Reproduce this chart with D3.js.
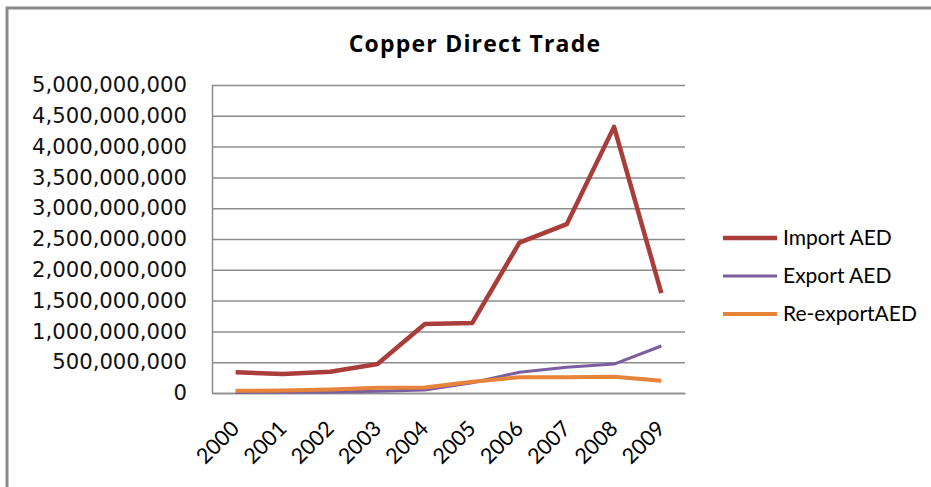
<!DOCTYPE html>
<html>
<head>
<meta charset="utf-8">
<script src="https://cdn.jsdelivr.net/npm/d3@7"></script>
<style>
  body { margin: 0; background: #fff; }
  .gridlines line { stroke: #8c8c8c; stroke-width: 1.5; }
  .gridlines .domain { display: none; }
</style>
</head>
<body>
<svg id="chart" width="931" height="487"></svg>
<script>
const years = ["2000","2001","2002","2003","2004","2005","2006","2007","2008","2009"];
const importAED = [336e6, 310e6, 346e6, 471e6, 1120e6, 1136e6, 2440e6, 2740e6, 4320e6, 1620e6];
const exportAED = [10e6, 12e6, 18e6, 30e6, 50e6, 167e6, 336e6, 417e6, 470e6, 763e6];
const reexportAED = [35e6, 40e6, 55e6, 86e6, 90e6, 184e6, 255e6, 255e6, 265e6, 200e6];
const yTicks = [0, 5e8, 1e9, 1.5e9, 2e9, 2.5e9, 3e9, 3.5e9, 4e9, 4.5e9, 5e9];

const series = [
  {name: "Import AED", values: importAED, color: "#a93d39", width: 4.5},
  {name: "Export AED", values: exportAED, color: "#7b5e9f", width: 3},
  {name: "Re-exportAED", values: reexportAED, color: "#e5843a", width: 4}
];

const svg = d3.select("#chart");
var margins = {top: 85, left: 212, right: 246, bottom: 94};
var chartWidth = svg.attr("width") - margins.left - margins.right;
var chartHeight = svg.attr("height") - margins.top - margins.bottom;

// outer frame
svg.append("path")
   .attr("d", "M7,487 V8 H931")
   .attr("fill", "none")
   .attr("stroke", "#8a8a8a")
   .attr("stroke-width", 3);

// title
svg.append("text")
   .attr("x", 475).attr("y", 52)
   .attr("text-anchor", "middle")
   .attr("font-family", "'Open Sans', Lato, sans-serif")
   .attr("font-weight", "bold")
   .attr("font-size", 23)
   .attr("letter-spacing", 1.2)
   .text("Copper Direct Trade");

// scales
var scaleX = d3.scaleBand().domain(years).range([0, chartWidth]);
var scaleY = d3.scaleLinear().domain([0, 5e9]).range([chartHeight, 0]);

let chartArea = svg.append("g")
                   .attr("transform", `translate(${margins.left},${margins.top})`);

// horizontal gridlines
chartArea.append("g")
   .attr("class", "gridlines")
   .call(d3.axisLeft(scaleY).tickValues(yTicks).tickSize(-chartWidth).tickFormat(""));

// y-axis labels
let leftAxis = chartArea.append("g")
   .call(d3.axisLeft(scaleY).tickValues(yTicks).tickSize(0).tickPadding(25)
           .tickFormat(d3.format(",")));
leftAxis.select(".domain").attr("stroke", "#8c8c8c").attr("stroke-width", 1.5);
leftAxis.selectAll("text")
   .attr("font-family", "'DejaVu Sans', Verdana, sans-serif")
   .attr("font-size", 21.2)
   .attr("fill", "#111");

// x-axis
let bottomAxis = chartArea.append("g")
   .attr("transform", `translate(0,${chartHeight})`)
   .call(d3.axisBottom(scaleX).tickSize(0).tickPadding(0));
bottomAxis.select(".domain").attr("stroke", "#8c8c8c").attr("stroke-width", 1.5);
bottomAxis.selectAll("text")
   .attr("font-family", "Lato, 'Open Sans', sans-serif")
   .attr("font-size", 21.5)
   .attr("fill", "#000")
   .attr("text-anchor", "end")
   .attr("dy", null)
   .attr("transform", "translate(5,37) rotate(-45)");

// lines
let line = d3.line()
   .x((d, i) => scaleX(years[i]) + scaleX.bandwidth() / 2)
   .y(d => scaleY(d));

chartArea.selectAll("path.series")
   .data(series)
   .join("path")
   .attr("class", "series")
   .attr("fill", "none")
   .attr("stroke", d => d.color)
   .attr("stroke-width", d => d.width)
   .attr("stroke-linejoin", "round")
   .attr("d", d => line(d.values));

// legend
let legend = svg.selectAll("g.legend")
   .data(series)
   .join("g")
   .attr("class", "legend")
   .attr("transform", (d, i) => `translate(723,${238 + i * 38})`);
legend.append("line")
   .attr("x1", 0).attr("x2", 54)
   .attr("stroke", d => d.color)
   .attr("stroke-width", d => d.width);
legend.append("text")
   .attr("x", 60).attr("y", 7)
   .attr("font-family", "Lato, 'Open Sans', sans-serif")
   .attr("font-size", 21)
   .text(d => d.name);
</script>
</body>
</html>
